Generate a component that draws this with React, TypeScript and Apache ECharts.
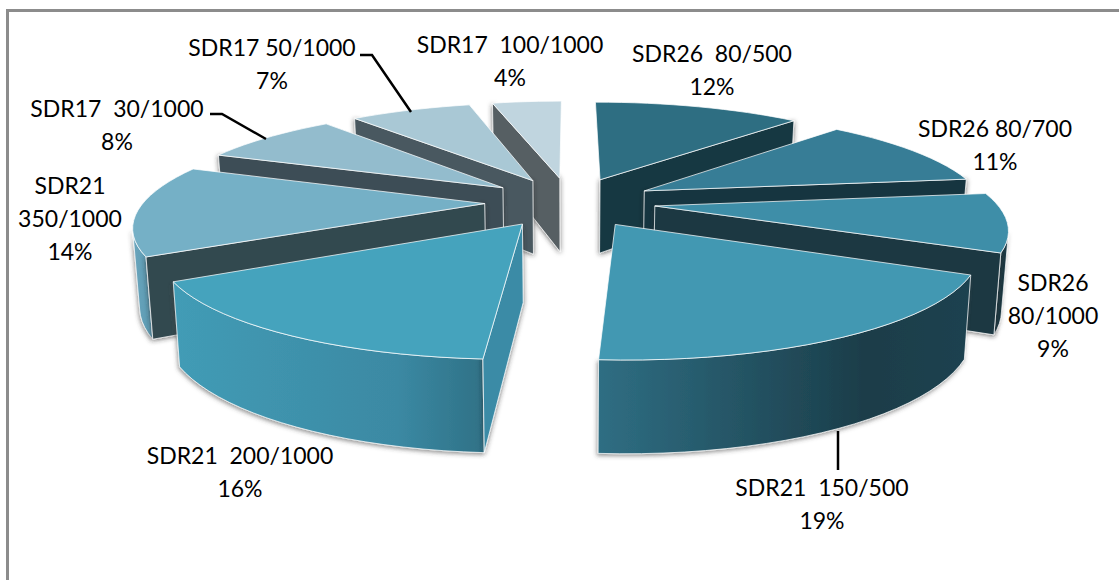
import React, { useEffect, useRef } from "react";
import * as echarts from "echarts";

// Pipe classes and their share of the total, clockwise from twelve o'clock.
const sliceNames = [
  "SDR26  80/500",
  "SDR26 80/700",
  "SDR26\n80/1000",
  "SDR21  150/500",
  "SDR21  200/1000",
  "SDR21\n350/1000",
  "SDR17  30/1000",
  "SDR17 50/1000",
  "SDR17  100/1000",
];
const sliceValues = [12, 11, 9, 19, 16, 14, 8, 7, 4];

const topColors = ["#2E6E82", "#377D96", "#3E8EA8", "#4298B2", "#45A3BD", "#75B0C6", "#93BCCD", "#A9C8D5", "#C0D5DF"];
const wallColors = ["#183842", "#183540", "#1A3843", "#1A3843", "#3A8BA6", "#324850", "#3D4E56", "#4A5960", "#565F63"];
const outerStops: [string, string, string][] = [
  ["#183842", "#183842", "#183842"],
  ["#183540", "#183540", "#183540"],
  ["#1A3843", "#1A3843", "#1C3E4A"],
  ["#2F6E83", "#1B3D49", "#1D4250"],
  ["#429CB6", "#3B89A3", "#2F7186"],
  ["#6AA5BC", "#5F9DB5", "#5F9DB5"],
  ["#7FA9B9", "#7FA9B9", "#7FA9B9"],
  ["#94B4C0", "#94B4C0", "#94B4C0"],
  ["#A9C0CA", "#A9C0CA", "#A9C0CA"],
];

// Text anchors for the data labels: centre x and the y of the first line.
const labelAnchors: [number, number][] = [
  [712, 53], [995, 128], [1053, 282], [822, 487], [240, 455], [70, 185], [117, 108], [272, 47], [510, 44],
];
const labelLineGap = 33;

const leaderLines: [number, number][][] = [
  [[360, 55], [372, 55], [411, 112]],
  [[210, 114], [222, 114], [266, 139]],
  [[838, 431], [838, 470]],
];

// Projection of the exploded pie: ground plane unit radius, height 0 to 1.
const CX = 570;
const CY = 202;
const SCALE_X = 341;
const SCALE_Y = 100;
const DEPTH = 76;
const PERSPECTIVE = 0.19;
const EXPLODE = 0.25;
const TAPER = 0.016;

function project(gx: number, gz: number, h: number): number[] {
  const s = 1 / (1 + PERSPECTIVE * gz);
  return [CX + SCALE_X * gx * s * (1 - TAPER * h), CY - SCALE_Y * gz * s + DEPTH * h * Math.pow(s, 0.8)];
}

const total = sliceValues.reduce((a, b) => a + b, 0);
const cumulative = sliceValues.map((_, i) => sliceValues.slice(0, i).reduce((a, b) => a + b, 0));
const midDepth = (i: number) => Math.cos(((cumulative[i] + sliceValues[i] / 2) / total) * 2 * Math.PI);

// Paint from the far side of the pie towards the viewer.
const paintOrder = sliceValues.map((_, i) => i).sort((a, b) => midDepth(b) - midDepth(a));

const outerShadow = { shadowColor: "rgba(60,60,60,0.55)", shadowBlur: 4, shadowOffsetX: -1, shadowOffsetY: 2 };
const wallShadow = { shadowColor: "rgba(40,40,40,0.7)", shadowBlur: 5, shadowOffsetX: 0, shadowOffsetY: 1 };
const edge = { stroke: "rgba(255,255,255,0.72)", lineWidth: 1 };

function signedArea(points: number[][]): number {
  let sum = 0;
  points.forEach((p, i) => {
    const q = points[(i + 1) % points.length];
    sum += p[0] * q[1] - q[0] * p[1];
  });
  return sum / 2;
}

function renderSlice(_: any, api: any) {
  const index = api.value(0);
  const a0 = (api.value(2) / total) * 2 * Math.PI;
  const a1 = ((api.value(2) + api.value(1)) / total) * 2 * Math.PI;
  const mid = (a0 + a1) / 2;
  const ox = EXPLODE * Math.sin(mid);
  const oz = EXPLODE * Math.cos(mid);
  const steps = Math.max(4, Math.ceil((a1 - a0) / 0.05));
  const rim: [number, number][] = [];
  for (let i = 0; i <= steps; i++) {
    const t = a0 + ((a1 - a0) * i) / steps;
    rim.push([ox + Math.sin(t), oz + Math.cos(t)]);
  }
  const ring = (h: number) => rim.map(([x, z]) => project(x, z, h));
  const topRim = ring(0);
  const lowRim = ring(1);
  const apexTop = project(ox, oz, 0);
  const apexLow = project(ox, oz, 1);
  const stops = outerStops[index];
  const children: any[] = [];

  // The curved wall is limited to the stretch of the arc facing the viewer.
  let first = -1;
  let last = -1;
  for (let i = 0; i < steps; i++) {
    if (signedArea([topRim[i], topRim[i + 1], lowRim[i + 1], lowRim[i]]) < 0) {
      if (first < 0) first = i;
      last = i + 1;
    }
  }
  if (first >= 0) {
    children.push({
      type: "polygon",
      shape: {
        points: topRim.slice(first, last + 1).concat(lowRim.slice(first, last + 1).reverse()),
      },
      style: {
        fill: new echarts.graphic.LinearGradient(0, 0, 1, 0, [
          { offset: 0, color: stops[0] },
          { offset: 0.72, color: stops[1] },
          { offset: 1, color: stops[2] },
        ]),
        ...edge,
        ...outerShadow,
      },
      silent: true,
    });
  }

  // Of the two cut faces only the one turned towards the viewer is drawn.
  const rightHalf = Math.sin(mid) > 0;
  const cut = rightHalf ? topRim[topRim.length - 1] : topRim[0];
  const cutLow = rightHalf ? lowRim[lowRim.length - 1] : lowRim[0];
  const wallPoints = [apexTop, cut, cutLow, apexLow];
  const area = signedArea(wallPoints);
  if (rightHalf ? area > 0 : area < 0) {
    children.push({
      type: "polygon",
      shape: { points: wallPoints },
      style: { fill: wallColors[index], ...edge, ...wallShadow },
      silent: true,
    });
  }

  children.push({
    type: "polygon",
    shape: { points: [apexTop, ...topRim] },
    style: { fill: topColors[index], ...edge },
    silent: true,
  });
  return { type: "group", children };
}

function buildLabels() {
  const elements: any[] = [];
  sliceNames.forEach((name, i) => {
    const lines = [...name.split("\n"), sliceValues[i] + "%"];
    lines.forEach((line, j) => {
      elements.push({
        type: "text",
        z: 10,
        style: {
          text: line,
          x: labelAnchors[i][0],
          y: labelAnchors[i][1] + j * labelLineGap,
          fontFamily: "Lato",
          fontSize: 23,
          fill: "#000",
          align: "center",
          verticalAlign: "middle",
        },
      });
    });
  });
  leaderLines.forEach((points) => {
    elements.push({
      type: "polyline",
      z: 10,
      shape: { points },
      style: { stroke: "#000", lineWidth: 2.5, fill: "none" },
    });
  });
  // Chart frame: only its top and left edges fall on the page.
  elements.push(
    { type: "line", z: 1, shape: { x1: 6, y1: 10.5, x2: 1119, y2: 10.5 }, style: { stroke: "#8C8C8C", lineWidth: 3 } },
    { type: "line", z: 1, shape: { x1: 7.5, y1: 9, x2: 7.5, y2: 580 }, style: { stroke: "#8C8C8C", lineWidth: 3 } },
  );
  return elements;
}

export default function App() {
  const ref = useRef<HTMLDivElement>(null);
  useEffect(() => {
    if (!ref.current) return;
    const chart = echarts.init(ref.current, undefined, { renderer: "svg" });
    chart.setOption({
      animation: false,
      backgroundColor: "#fff",
      graphic: { elements: buildLabels() },
      series: [
        {
          type: "custom",
          coordinateSystem: "none",
          renderItem: renderSlice,
          data: paintOrder.map((i) => [i, sliceValues[i], cumulative[i]]),
        },
      ],
    });
    return () => chart.dispose();
  }, []);
  return <div ref={ref} style={{ position: "fixed", left: 0, top: 0, width: 1119, height: 580 }} />;
}
